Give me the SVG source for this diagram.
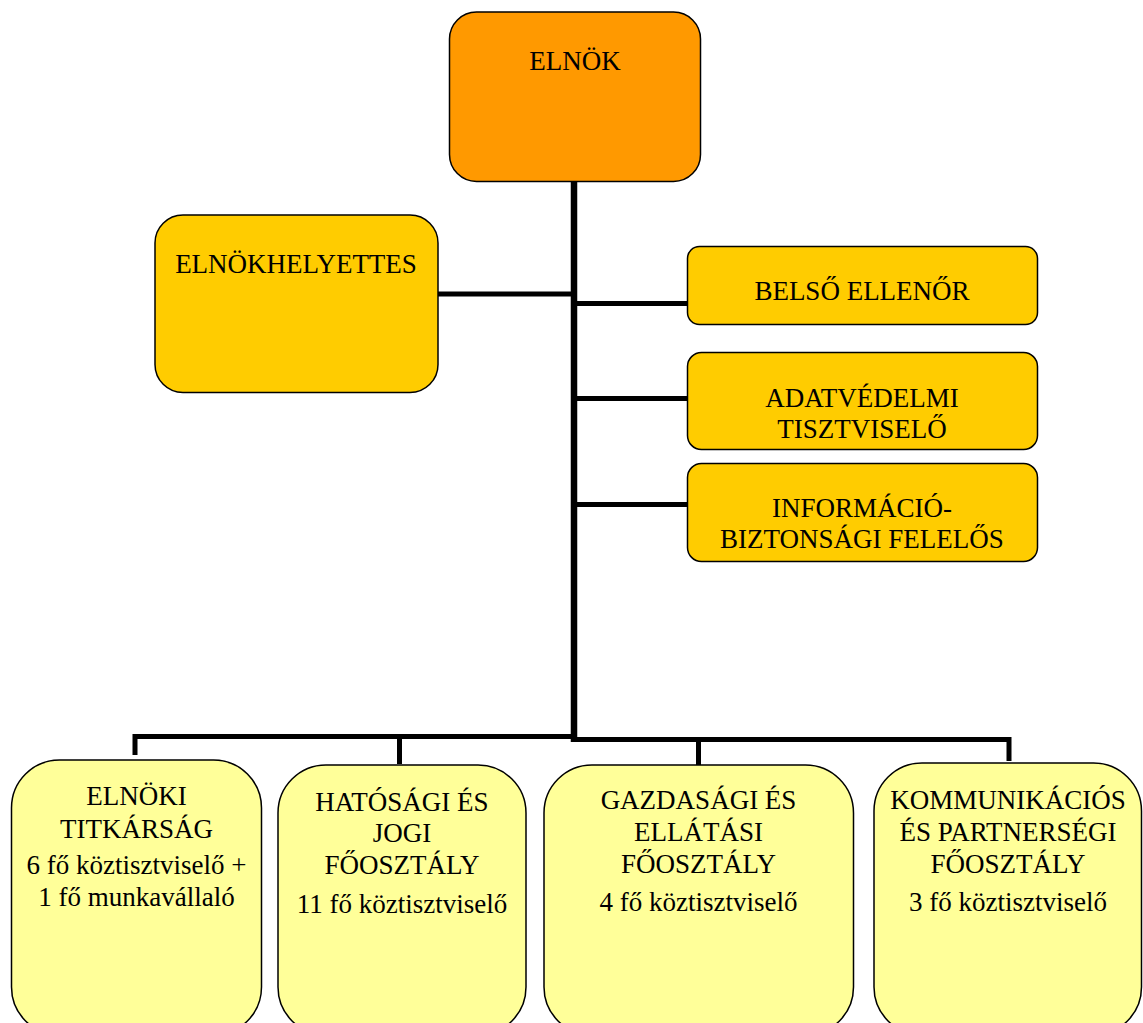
<svg xmlns="http://www.w3.org/2000/svg" width="1143" height="1023" viewBox="0 0 1143 1023" font-family="'Liberation Serif', 'Times New Roman', 'DejaVu Serif', serif">
<style>
.box{stroke:#000;stroke-width:1.5}
.top{fill:#FF9900}
.mid{fill:#FFCC00}
.low{fill:#FFFF99}
text{font-family:'Liberation Serif','Times New Roman','DejaVu Serif',serif;font-size:27px;fill:#000;text-anchor:middle}
.ln{fill:none;stroke:#000;stroke-width:5;stroke-linecap:butt;stroke-linejoin:miter}
</style>
<rect width="1143" height="1023" fill="#fff"/>
<g id="connectors">
<line class="ln" x1="574" y1="182" x2="574" y2="742" style="stroke-width:6.5"/>
<line class="ln" x1="438" y1="294" x2="574" y2="294"/>
<line class="ln" x1="574" y1="303.5" x2="688" y2="303.5"/>
<line class="ln" x1="574" y1="398.5" x2="688" y2="398.5"/>
<line class="ln" x1="574" y1="504.5" x2="688" y2="504.5"/>
<path class="ln" d="M135 755 V736.5 H574"/>
<line class="ln" x1="399.5" y1="736.5" x2="399.5" y2="764"/>
<path class="ln" d="M574 739.5 H1009 V761"/>
<line class="ln" x1="698.5" y1="739.5" x2="698.5" y2="765"/>
</g>
<g id="elnok">
<rect class="box top" x="449.5" y="12" width="251" height="169.5" rx="27"/>
<text x="575" y="70">ELNÖK</text>
</g>
<g id="elnokhelyettes">
<rect class="box mid" x="155" y="215" width="283" height="177.5" rx="28"/>
<text x="296" y="273">ELNÖKHELYETTES</text>
</g>
<g id="belso-ellenor">
<rect class="box mid" x="687.5" y="246.5" width="350" height="78" rx="12"/>
<text x="862" y="300">BELSŐ ELLENŐR</text>
</g>
<g id="adatvedelmi">
<rect class="box mid" x="687.5" y="352.5" width="350" height="97" rx="14"/>
<text x="862" y="406.5">ADATVÉDELMI</text>
<text x="862" y="437.5">TISZTVISELŐ</text>
</g>
<g id="informacio">
<rect class="box mid" x="687.5" y="463.5" width="350" height="98" rx="14"/>
<text x="862" y="516.5">INFORMÁCIÓ-</text>
<text x="862" y="547.5">BIZTONSÁGI FELELŐS</text>
</g>
<g id="elnoki-titkarsag">
<rect class="box low" x="11.5" y="760" width="250" height="275" rx="48"/>
<text x="136.5" y="805">ELNÖKI</text>
<text x="136.5" y="838">TITKÁRSÁG</text>
<text x="136.5" y="874">6 fő köztisztviselő +</text>
<text x="136.5" y="906">1 fő munkavállaló</text>
</g>
<g id="hatosagi">
<rect class="box low" x="278" y="765" width="248" height="270" rx="48"/>
<text x="402" y="811">HATÓSÁGI ÉS</text>
<text x="402" y="842">JOGI</text>
<text x="402" y="874">FŐOSZTÁLY</text>
<text x="402" y="913">11 fő köztisztviselő</text>
</g>
<g id="gazdasagi">
<rect class="box low" x="544" y="765" width="309.5" height="270" rx="48"/>
<text x="698.5" y="809">GAZDASÁGI ÉS</text>
<text x="698.5" y="841">ELLÁTÁSI</text>
<text x="698.5" y="873">FŐOSZTÁLY</text>
<text x="698.5" y="911">4 fő köztisztviselő</text>
</g>
<g id="kommunikacios">
<rect class="box low" x="874" y="763" width="267.5" height="272" rx="48"/>
<text x="1008" y="809">KOMMUNIKÁCIÓS</text>
<text x="1008" y="841">ÉS PARTNERSÉGI</text>
<text x="1008" y="873">FŐOSZTÁLY</text>
<text x="1008" y="911">3 fő köztisztviselő</text>
</g>
</svg>
